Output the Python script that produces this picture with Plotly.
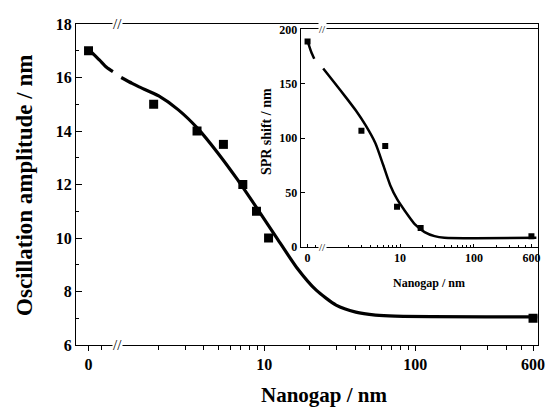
import numpy as np
import plotly.graph_objects as go

# ---------------- data ----------------
# main panel: oscillation amplitude vs nanogap
main_gap = [0, 1.86, 3.6, 5.38, 7.23, 8.9, 10.7, 600]
main_amp = [17.0, 15.0, 14.0, 13.5, 12.0, 11.0, 10.0, 7.0]

# fitted curve (two pieces either side of the axis break)
main_fit_gap_a = [0.713, 0.817, 0.908, 1.0]
main_fit_amp_a = [16.98, 16.65, 16.38, 16.22]
main_fit_gap_b = [1.135, 1.34, 1.49, 2.01, 2.71, 3.66, 4.94, 6.67, 9.0, 12.2,
                  16.4, 22.1, 29.9, 40.4, 54.5, 73.5, 640]
main_fit_amp_b = [16.0, 15.78, 15.65, 15.31, 14.79, 14.08, 13.18, 12.18, 11.1,
                  9.98, 8.90, 8.05, 7.49, 7.23, 7.12, 7.08, 7.05]

# inset: SPR shift vs nanogap
inset_gap = [0, 3.0, 6.3, 9.1, 19, 600]
inset_shift = [189, 107, 93, 37, 17.5, 10]
inset_fit_gap_a = [0.575, 0.63, 0.69]
inset_fit_shift_a = [187, 179, 173]
inset_fit_gap_b = [0.912, 1.28, 1.85, 2.51, 3.41, 4.64, 5.93, 7.36, 9.12, 11.7,
                   15.8, 21.5, 29.3, 39.8, 700]
inset_fit_shift_b = [164.2, 151.4, 137.6, 125.7, 112, 95.4, 75.2, 56.9, 44.0,
                     33.0, 21.1, 13.8, 10.1, 8.6, 8.5]

# tick labels
x_tick_labels = ["0", "10", "100", "600"]
x_tick_values = [0, 10, 100, 600]

# where the "0" gap sits on each broken log axis
ZERO_MAIN = 0.69
ZERO_INSET = 0.56
BREAK_MAIN = 1.07
BREAK_INSET = 0.88

def place(vals, zero):
    return [zero if v == 0 else v for v in vals]

minor_vals = [2, 3, 4, 5, 6, 7, 8, 9, 20, 30, 40, 50, 60, 70, 80, 90,
              200, 300, 400, 500]

SERIF = "Liberation Serif, Times New Roman, serif"

def bfont(size):
    return dict(family=SERIF, size=size, color="black", weight="bold")

fig = go.Figure()

main_line = dict(color="black", width=3.2, shape="spline", smoothing=0.6)
inset_line = dict(color="black", width=2.5, shape="spline", smoothing=0.6)

fig.add_trace(go.Scatter(x=main_fit_gap_a, y=main_fit_amp_a, mode="lines",
                         line=main_line, xaxis="x", yaxis="y", showlegend=False))
fig.add_trace(go.Scatter(x=main_fit_gap_b, y=main_fit_amp_b, mode="lines",
                         line=main_line, xaxis="x", yaxis="y", showlegend=False))
fig.add_trace(go.Scatter(
    x=place(main_gap, ZERO_MAIN), y=main_amp, mode="markers",
    marker=dict(symbol="square", size=9, color="black"),
    xaxis="x", yaxis="y", showlegend=False))

fig.add_trace(go.Scatter(x=inset_fit_gap_a, y=inset_fit_shift_a, mode="lines",
                         line=inset_line, xaxis="x2", yaxis="y2", showlegend=False))
fig.add_trace(go.Scatter(x=inset_fit_gap_b, y=inset_fit_shift_b, mode="lines",
                         line=inset_line, xaxis="x2", yaxis="y2", showlegend=False))
fig.add_trace(go.Scatter(
    x=place(inset_gap, ZERO_INSET), y=inset_shift, mode="markers",
    marker=dict(symbol="square", size=6, color="black"),
    xaxis="x2", yaxis="y2", showlegend=False))

axis_common = dict(showgrid=False, zeroline=False, showline=True,
                   linecolor="black", linewidth=1, mirror=True,
                   tickcolor="black", ticklabeloverflow="allow")

fig.update_layout(
    width=546, height=407,
    margin=dict(l=76, r=1, t=24, b=62),
    paper_bgcolor="white", plot_bgcolor="white",
    xaxis=dict(**axis_common, type="log", range=[-0.244, 2.811],
               domain=[0, 1], anchor="y",
               tickmode="array",
               tickvals=place(x_tick_values, ZERO_MAIN),
               ticktext=x_tick_labels,
               ticks="outside", ticklen=5, tickwidth=1,
               tickfont=bfont(16),
               minor=dict(tickmode="array", tickvals=[0.84] + minor_vals,
                          ticks="outside", ticklen=4, tickcolor="black")),
    yaxis=dict(**axis_common, range=[6, 18], domain=[0, 1], anchor="x",
               tickmode="linear", tick0=6, dtick=2,
               ticks="inside", ticklen=6, tickwidth=1,
               tickfont=bfont(16),
               minor=dict(tickmode="linear", tick0=7, dtick=2,
                          ticks="inside", ticklen=3, tickcolor="black")),
    xaxis2=dict(**axis_common, type="log", range=[-0.347, 2.867],
                domain=[0.486, 1], anchor="y2",
                tickmode="array",
                tickvals=place(x_tick_values, ZERO_INSET),
                ticktext=x_tick_labels,
                ticks="inside", ticklen=3, tickwidth=1,
                tickfont=bfont(12),
                minor=dict(tickmode="array", tickvals=[0.72] + minor_vals,
                           ticks="inside", ticklen=2, tickcolor="black")),
    yaxis2=dict(**axis_common, range=[0, 200], domain=[0.305, 0.983],
                anchor="x2", tickmode="linear", tick0=0, dtick=50,
                ticks="inside", ticklen=4, tickwidth=1,
                tickfont=bfont(12)),
)

annotations = [
    dict(text="Oscillation amplitude / nm", textangle=-90,
         xref="paper", yref="paper", x=-0.113, y=0.498,
         xanchor="center", yanchor="middle",
         showarrow=False, font=bfont(23)),
    dict(text="Nanogap / nm", xref="paper", yref="paper", x=0.537, y=-0.156,
         xanchor="center", yanchor="middle",
         showarrow=False, font=bfont(21)),
    dict(text="SPR shift / nm", textangle=-90,
         xref="paper", yref="paper", x=0.414, y=0.664,
         xanchor="center", yanchor="middle",
         showarrow=False, font=bfont(14)),
    dict(text="Nanogap / nm", xref="paper", yref="paper", x=0.765, y=0.193,
         xanchor="center", yanchor="middle",
         showarrow=False, font=bfont(12)),
]
# axis-break marks
for yv in (0, 1):
    annotations.append(dict(text="//", xref="x", yref="paper",
                            x=np.log10(BREAK_MAIN), y=yv, showarrow=False,
                            xanchor="center", yanchor="middle",
                            bgcolor="white", borderpad=0,
                            font=dict(family=SERIF, size=15, color="black")))
for yv in (0, 200):
    annotations.append(dict(text="//", xref="x2", yref="y2",
                            x=np.log10(BREAK_INSET), y=yv, showarrow=False,
                            xanchor="center", yanchor="middle",
                            bgcolor="white", borderpad=0,
                            font=dict(family=SERIF, size=11, color="black")))
fig.update_layout(annotations=annotations)

fig.write_html("out.html")
